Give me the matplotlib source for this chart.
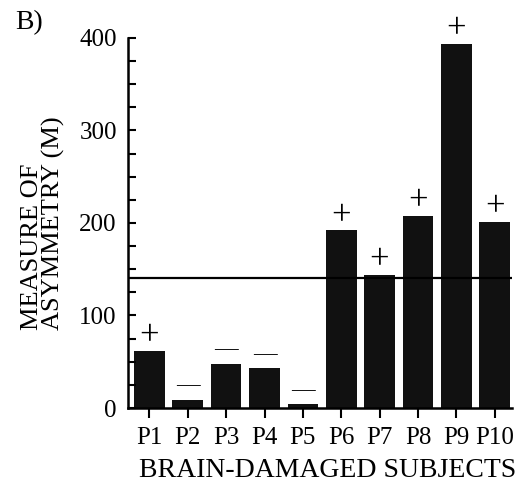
import matplotlib.pyplot as plt
import numpy as np

# Subjects and asymmetry values (M)
subjects = ["P1", "P2", "P3", "P4", "P5", "P6", "P7", "P8", "P9", "P10"]
asymmetry = [62, 9, 48, 43, 4, 192, 144, 208, 394, 201]
signs = ["+", "—", "—", "—", "—", "+", "+", "+", "+", "+"]
threshold = 140

plt.rcParams['font.family'] = ['Liberation Serif', 'DejaVu Serif']

fig = plt.figure(figsize=(5.16, 4.93), dpi=100)
ax = fig.add_axes([0.248, 0.1724, 0.744, 0.7506])

x = np.arange(len(subjects))
ax.bar(x, asymmetry, width=0.8, color='#111111')

# Sign markers above bars
for xi, v, s in zip(x, asymmetry, signs):
    if s == "+":
        ax.text(xi, v + 15, s, ha='center', va='center', fontsize=25)
    else:
        ax.text(xi, v + 15, "—", ha='center', va='center', fontsize=17)

# Criterion line
ax.axhline(threshold, color='black', linewidth=1.6)

ax.set_xlim(-0.56, 9.45)
ax.set_ylim(0, 400)
ax.set_xticks(x)
ax.set_xticklabels(subjects, fontsize=18)
ax.set_yticks(np.arange(0, 401, 100))
ax.set_yticks(np.arange(0, 401, 25), minor=True)
ax.tick_params(axis='y', which='both', direction='in', length=6, width=1.5, labelsize=18, pad=8)
ax.tick_params(axis='x', direction='out', length=7, width=1.5, pad=7)

for side in ['top', 'right']:
    ax.spines[side].set_visible(False)
ax.spines['left'].set_linewidth(1.8)
ax.spines['bottom'].set_linewidth(1.8)

ax.set_xlabel("BRAIN-DAMAGED SUBJECTS", fontsize=20, labelpad=4)
ax.xaxis.set_label_coords(0.52, -0.135)
ax.set_ylabel("MEASURE OF\nASYMMETRY (M)", fontsize=19, linespacing=0.9,
              ha='left', multialignment='left')
ax.yaxis.set_label_coords(-0.165, 0.21)

fig.text(0.03, 0.955, "B)", fontsize=20, va='center', ha='left')

plt.savefig('out.png', dpi=100)
